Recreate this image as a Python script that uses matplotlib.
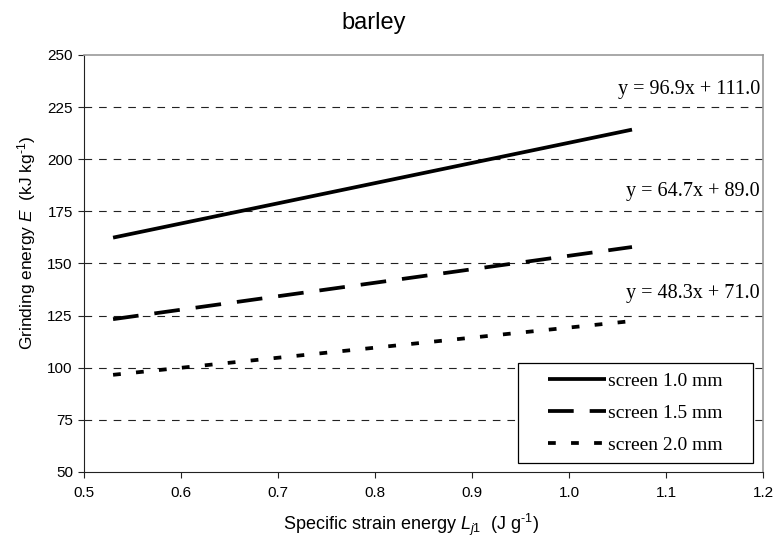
import matplotlib
matplotlib.use("Agg")
import matplotlib.pyplot as plt
from matplotlib.patches import Rectangle

x_ends = [0.53, 1.065]
screen_10 = [162.4, 214.2]
screen_15 = [123.3, 157.9]
screen_20 = [96.6, 122.4]
labels = ["screen 1.0 mm", "screen 1.5 mm", "screen 2.0 mm"]
equations = ["y = 96.9x + 111.0", "y = 64.7x + 89.0", "y = 48.3x + 71.0"]
eq_y = [233.5, 184.5, 135.5]
x_ticks = [0.5, 0.6, 0.7, 0.8, 0.9, 1.0, 1.1, 1.2]
y_ticks = [50, 75, 100, 125, 150, 175, 200, 225, 250]

plt.rcParams['font.family'] = ['Liberation Sans', 'DejaVu Sans']
plt.rcParams['mathtext.fontset'] = 'custom'
plt.rcParams['mathtext.it'] = 'Liberation Sans:italic'
plt.rcParams['mathtext.rm'] = 'Liberation Sans'
plt.rcParams['lines.scale_dashes'] = False

fig = plt.figure(figsize=(7.76, 5.44), dpi=100)
ax = fig.add_axes([0.1082, 0.1324, 0.875, 0.7665])

lw = 2.7
ax.plot(x_ends, screen_10, color='black', lw=lw, solid_capstyle='butt', label=labels[0])
ax.plot(x_ends, screen_15, color='black', lw=lw, dashes=(18.5, 11.5), dash_capstyle='butt', label=labels[1])
ax.plot(x_ends, screen_20, color='black', lw=lw, dashes=(5.6, 11), dash_capstyle='butt', label=labels[2])

for yv in y_ticks[1:-1]:
    ax.axhline(yv, color='#222222', lw=0.8, dashes=(5.5, 5.0), zorder=0)

ax.set_xlim(0.5, 1.2)
ax.set_ylim(50, 250)
ax.set_xticks(x_ticks)
ax.set_xticklabels([f"{v:.1f}" for v in x_ticks])
ax.set_yticks(y_ticks)
ax.tick_params(labelsize=11, direction='out', length=4, color='#222222')
ax.tick_params(axis='x', pad=6)
ax.tick_params(axis='y', pad=4)
for s in ['left', 'bottom']:
    ax.spines[s].set_color('#222222')
for s in ['top', 'right']:
    ax.spines[s].set_color('#999999')
    ax.spines[s].set_linewidth(1.2)

for t, yv in zip(equations, eq_y):
    ax.text(1.197, yv, t, ha='right', va='center', fontsize=14.5, family='Liberation Serif')

fig.text(0.481, 1 - 29 / 544, "barley", ha='center', va='baseline', fontsize=17)
ax.set_xlabel(r"Specific strain energy $\mathit{L}_{\mathit{j1}}$  (J g$^{\text{-1}}$)", fontsize=13, labelpad=8)
ax.set_ylabel(r"Grinding energy $\mathit{E}$  (kJ kg$^{\text{-1}}$)", fontsize=12.5, labelpad=8)
ax.xaxis.set_label_coords(0.482, -0.095)
ax.yaxis.set_label_coords(-0.068, 0.55)

# legend frame
ax.add_patch(Rectangle((0.639, 0.0216), 0.346, 0.2394, transform=ax.transAxes,
                       facecolor='white', edgecolor='black', lw=0.9, zorder=4))
leg = ax.legend(loc='center', bbox_to_anchor=(0.812, 0.1413), prop={'family': 'Liberation Serif', 'size': 14},
                frameon=False, handlelength=3.0, borderpad=0.2, labelspacing=0.75, handletextpad=0.1)
leg.set_zorder(5)

fig.savefig("out.png", dpi=100)
